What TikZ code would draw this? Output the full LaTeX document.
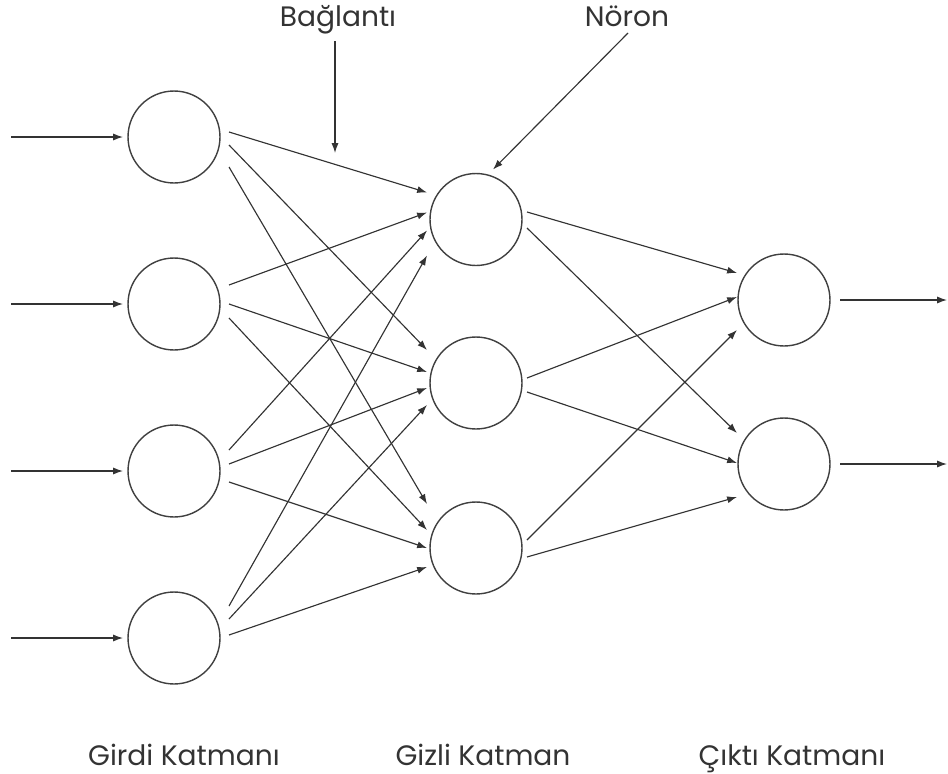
\documentclass[tikz,border=0pt]{standalone}
\usepackage{fontspec}
\setmainfont{Poppins}
\usetikzlibrary{arrows.meta,calc}

\begin{document}
\begin{tikzpicture}[x=0.02cm,y=-0.02cm]
    \tikzset{neuron/.style={
        circle, draw=black!75, line width=0.8pt, minimum size=1.84cm, inner sep=0pt
      },
      conn/.style={draw=black!80, line width=0.65pt, -{Latex[length=5.6pt,width=4pt]}},
      layertext/.style={font=\fontsize{16}{18}\selectfont, text=black!80, anchor=base}
    }
    \useasboundingbox (0,0) rectangle (948,774);

    \node[neuron] (i1) at (174,137) {};
    \node[neuron] (i2) at (174,304) {};
    \node[neuron] (i3) at (174,471) {};
    \node[neuron] (i4) at (174,638) {};

    \node[neuron] (h1) at (476,219.5) {};
    \node[neuron] (h2) at (476,383) {};
    \node[neuron] (h3) at (476,548) {};

    \node[neuron] (o1) at (784,300) {};
    \node[neuron] (o2) at (784,464) {};

    % girdi -> gizli
    \foreach \s/\t/\a/\b in {i1/h1/-5/-27, i1/h2/8/-33, i1/h3/30/-44,
                             i2/h1/-19/-7, i2/h2/0/-11, i2/h3/14/-18,
                             i3/h1/-21/11, i3/h2/-7/5, i3/h3/11/0,
                             i4/h1/-32/36, i4/h2/-19/22, i4/h3/-3/19}
      \draw[conn] ($(\s)+(55,\a)$) -- ($(\t)+(-49,\b)$);

    % gizli -> cikti
    \foreach \s/\t/\a/\b in {h1/o1/-7.5/-27, h1/o2/8.5/-31,
                             h2/o1/-5/-3, h2/o2/9/-1,
                             h3/o1/-8/30, h3/o2/9/33}
      \draw[conn] ($(\s)+(51,\a)$) -- ($(\t)+(-47,\b)$);

    \foreach \n in {i1,i2,i3,i4}
      \draw[conn] ($(\n)+(-163,0)$) -- ($(\n)+(-51,0)$);
    \foreach \n in {o1,o2}
      \draw[conn] ($(\n)+(56,0)$) -- ($(\n)+(163,0)$);

    \node[layertext] (baglanti) at (338,27) {Bağlantı};
    \node[layertext] (noron) at (627,27) {Nöron};
    \coordinate (bagucu) at (335,153);
    \draw[conn] ($(baglanti.base)+(-3,14)$) -- (bagucu);
    \draw[conn] ($(noron.base)+(1,6)$) -- ($(h1)+(17,-50)$);

    \node[layertext] (girdi) at (184,765) {Girdi Katmanı};
    \node[layertext] (gizli) at (483,765) {Gizli Katman};
    \node[layertext] (cikti) at (792,765) {Çıktı Katmanı};
  \end{tikzpicture}
\end{document}
